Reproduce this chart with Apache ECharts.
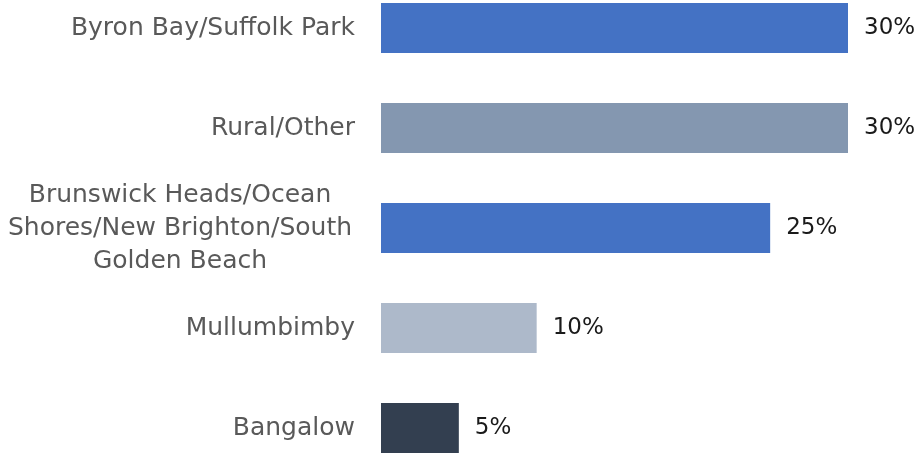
<!DOCTYPE html>
<html>
<head>
<meta charset="utf-8">
<script src="https://cdn.jsdelivr.net/npm/echarts@6/dist/echarts.min.js"></script>
<style>
  html, body { margin: 0; padding: 0; background: #ffffff; overflow: hidden; }
  /* plot area runs past the top and bottom edges of the page */
  #chart { position: absolute; left: 0; top: -22px; width: 922px; height: 500px; }
</style>
</head>
<body>
<div id="chart"></div>
<script>
// Locations, top to bottom
const categories = [
  'Byron Bay/Suffolk Park',
  'Rural/Other',
  'Brunswick Heads/Ocean\nShores/New Brighton/South\nGolden Beach',
  'Mullumbimby',
  'Bangalow'
];
// Share of respondents (%)
const values = [30, 30, 25, 10, 5];
const barColors = ['#4472C4', '#8497B0', '#4472C4', '#ADB9CA', '#333F50'];

const FONT = '"DejaVu Sans", sans-serif';

const chart = echarts.init(document.getElementById('chart'), null, { renderer: 'canvas' });

chart.setOption({
  animation: false,
  backgroundColor: '#ffffff',
  grid: { left: 381, right: 74, top: 0, bottom: 0, containLabel: false },
  xAxis: {
    type: 'value',
    min: 0,
    max: 30,
    show: false
  },
  yAxis: {
    type: 'category',
    data: categories.slice().reverse(),
    axisLine: { show: false },
    axisTick: { show: false },
    splitLine: { show: false },
    axisLabel: {
      margin: 26,
      color: '#595959',
      fontFamily: FONT,
      fontSize: 25,
      formatter: function (v) {
        const lines = v.split('\n');
        if (lines.length === 1) return v;
        return lines.map(function (l) { return '{c|' + l + '}'; }).join('\n');
      },
      rich: {
        c: {
          width: 350,
          align: 'center',
          color: '#595959',
          fontFamily: FONT,
          fontSize: 25,
          lineHeight: 33
        }
      }
    }
  },
  series: [{
    type: 'bar',
    barWidth: 50,
    data: values.slice().reverse().map(function (v, i) {
      const idx = values.length - 1 - i;
      return { value: v, itemStyle: { color: barColors[idx] } };
    }),
    label: {
      show: true,
      position: 'right',
      distance: 16,
      color: '#1a1a1a',
      fontFamily: FONT,
      fontSize: 23,
      formatter: '{c}%'
    }
  }]
});
</script>
</body>
</html>
